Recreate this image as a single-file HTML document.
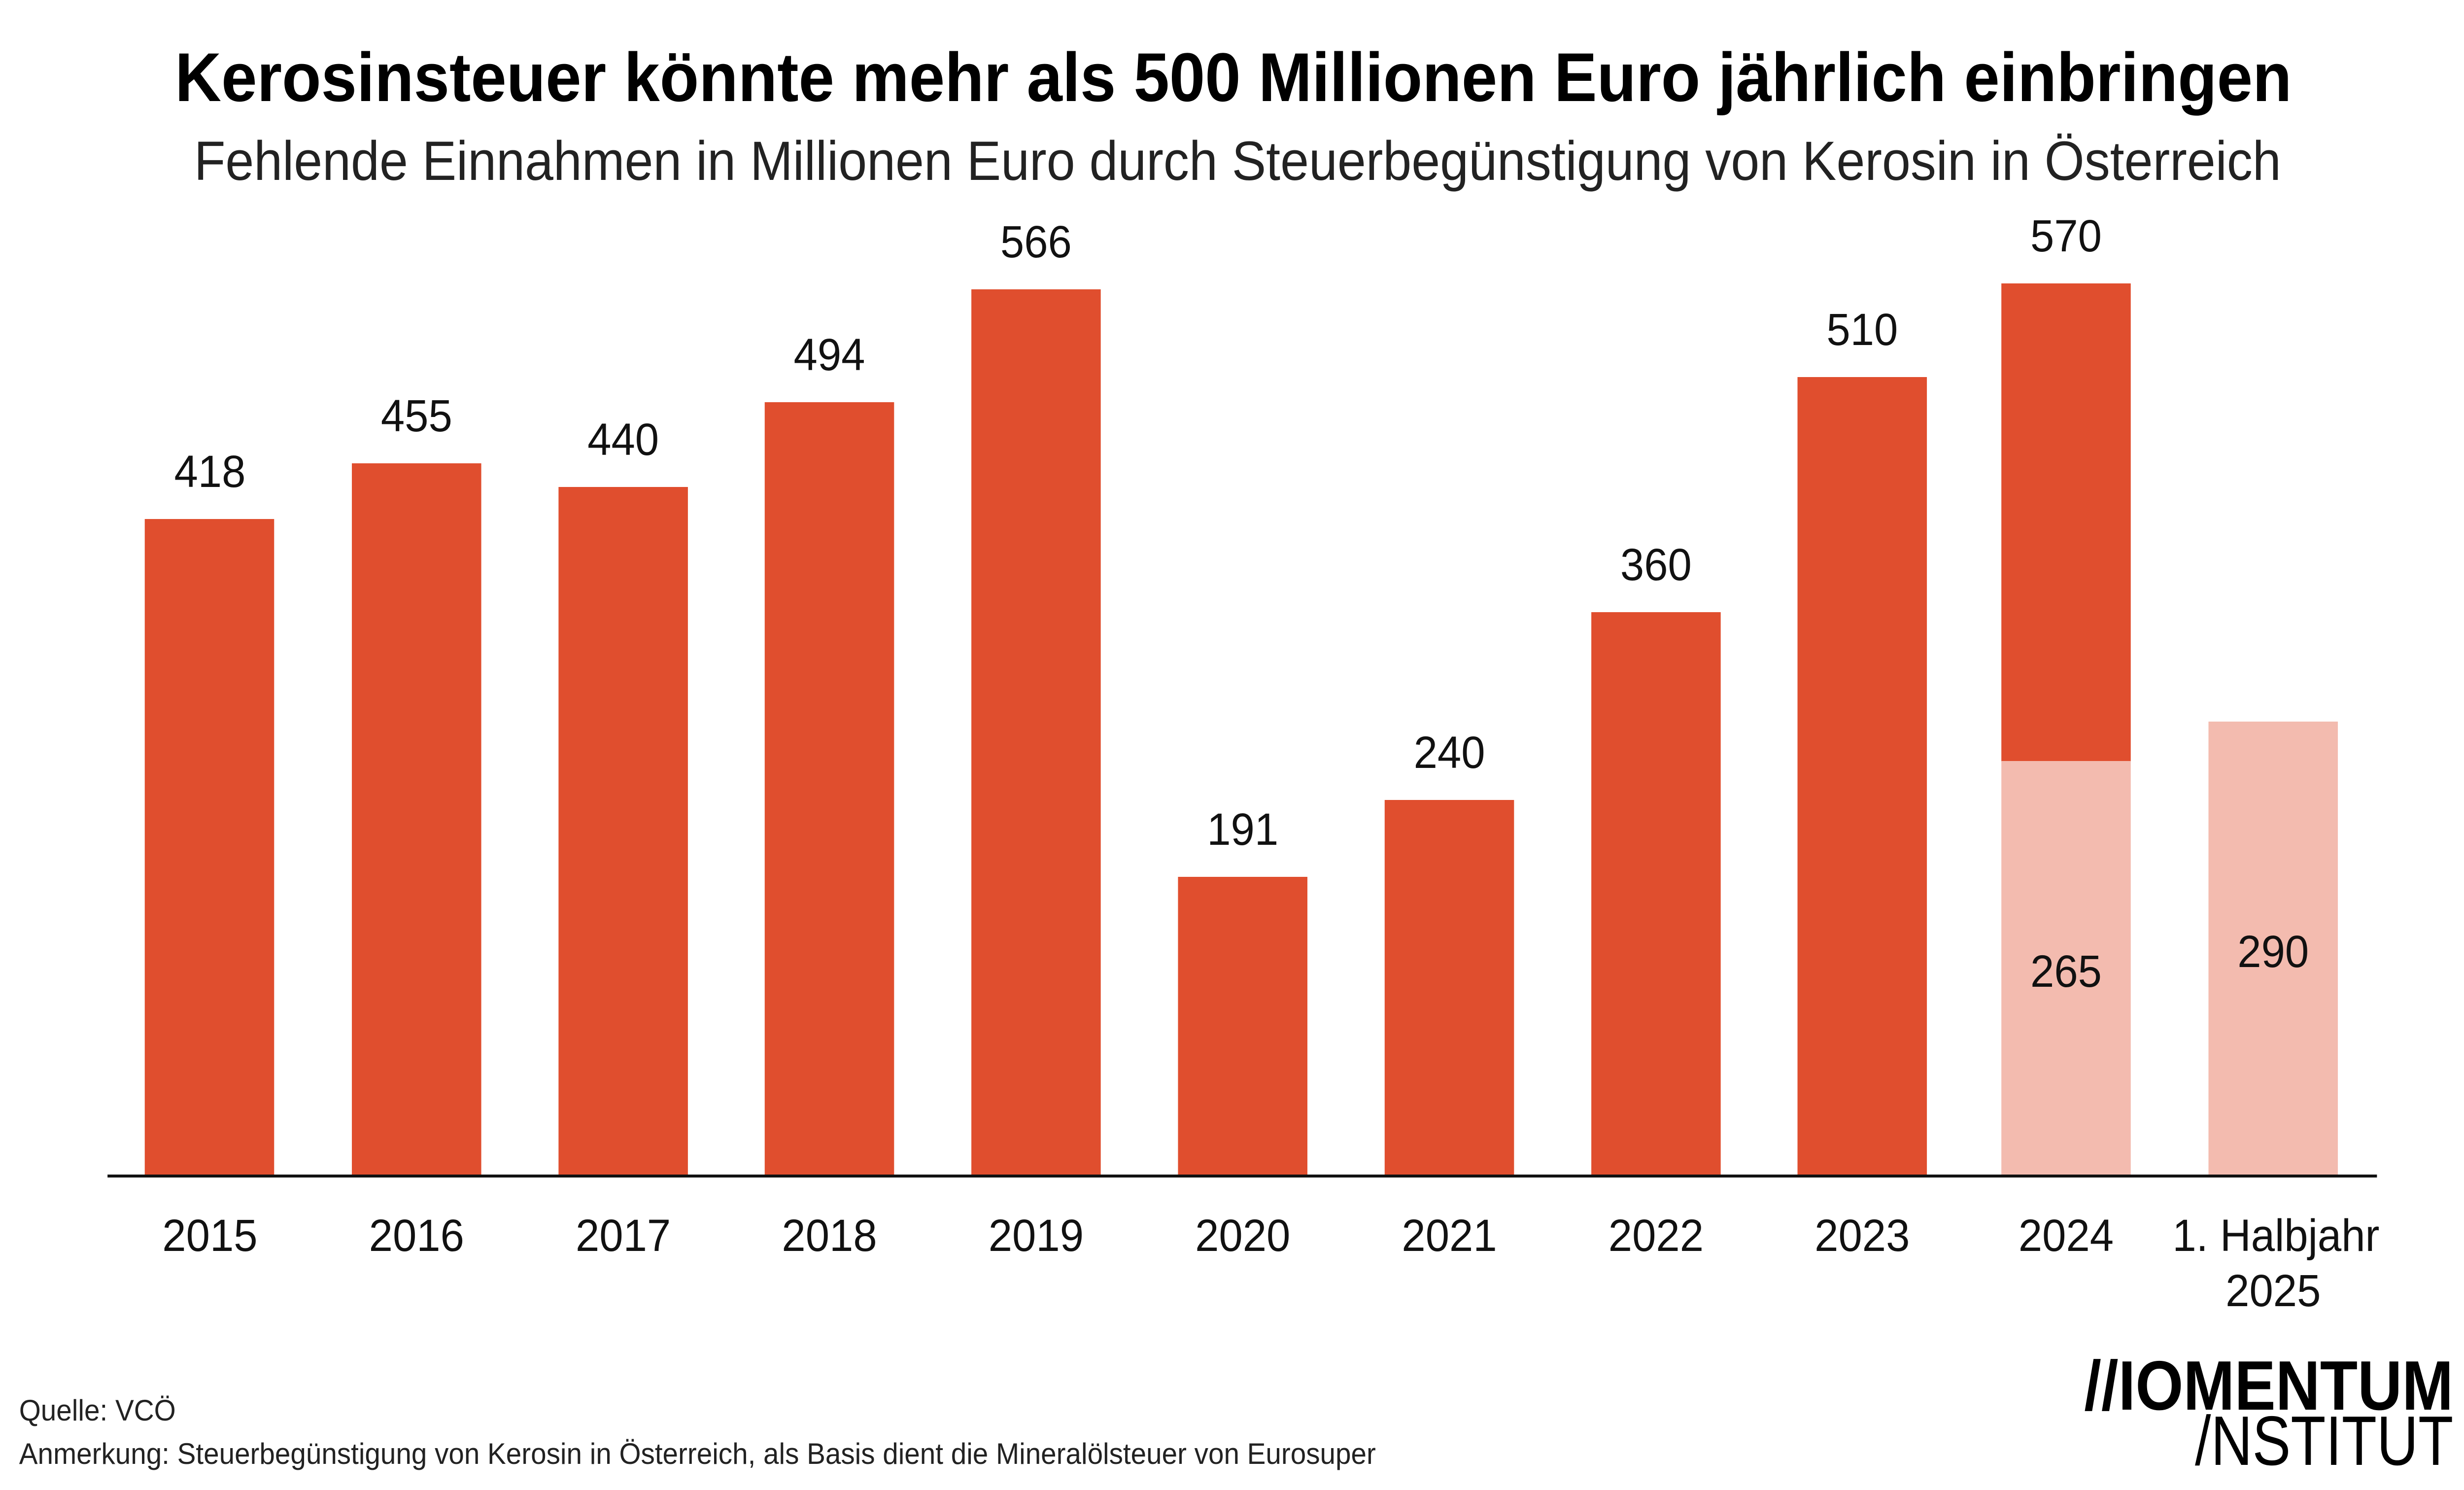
<!DOCTYPE html>
<html><head><meta charset="utf-8"><style>
html,body{margin:0;padding:0;background:#fff;width:100%;height:100%;overflow:hidden}
svg{display:block;position:fixed;left:0;top:0;width:100vw;height:100vh}
</style></head>
<body>
<svg viewBox="0 0 5294 3023" preserveAspectRatio="none" xmlns="http://www.w3.org/2000/svg" font-family="Liberation Sans, sans-serif">
<rect width="5294" height="3023" fill="#fff"/>
<text x="2650" y="205" text-anchor="middle" font-size="140" font-weight="bold" textLength="4548" lengthAdjust="spacingAndGlyphs">Kerosinsteuer könnte mehr als 500 Millionen Euro jährlich einbringen</text>
<text x="2659" y="365" text-anchor="middle" font-size="112" fill="#222" textLength="4484" lengthAdjust="spacingAndGlyphs">Fehlende Einnahmen in Millionen Euro durch Steuerbegünstigung von Kerosin in Österreich</text>
<g fill="#E04E2E">
<rect x="311" y="1053" width="278" height="1333"/>
<rect x="756" y="940" width="278" height="1446"/>
<rect x="1200" y="988" width="278" height="1398"/>
<rect x="1643" y="816" width="278" height="1570"/>
<rect x="2087" y="587" width="278" height="1799"/>
<rect x="2531" y="1779" width="278" height="607"/>
<rect x="2975" y="1623" width="278" height="763"/>
<rect x="3419" y="1242" width="278" height="1144"/>
<rect x="3862" y="765" width="278" height="1621"/>
<rect x="4300" y="575" width="278" height="970"/>
</g>
<g fill="#F3BBAF">
<rect x="4300" y="1544" width="278" height="842"/>
<rect x="4745" y="1464" width="278" height="922"/>
</g>
<line x1="231" y1="2386" x2="5107" y2="2386" stroke="#111" stroke-width="6"/>
<g font-size="92" text-anchor="middle" fill="#111">
<text x="451" y="988">418</text>
<text x="895" y="875">455</text>
<text x="1339" y="923">440</text>
<text x="1782" y="751">494</text>
<text x="2226" y="522">566</text>
<text x="2670" y="1714">191</text>
<text x="3114" y="1558">240</text>
<text x="3558" y="1177">360</text>
<text x="4001" y="700">510</text>
<text x="4439" y="510">570</text>
<text x="4439" y="2002">265</text>
<text x="4884" y="1962">290</text>
</g>
<g font-size="92" text-anchor="middle" fill="#111">
<text x="451" y="2538">2015</text>
<text x="895" y="2538">2016</text>
<text x="1339" y="2538">2017</text>
<text x="1782" y="2538">2018</text>
<text x="2226" y="2538">2019</text>
<text x="2670" y="2538">2020</text>
<text x="3114" y="2538">2021</text>
<text x="3558" y="2538">2022</text>
<text x="4001" y="2538">2023</text>
<text x="4439" y="2538">2024</text>
<text x="4890" y="2538">1. Halbjahr</text>
<text x="4884" y="2650">2025</text>
</g>
<text x="41" y="2882" font-size="60" fill="#222">Quelle: VCÖ</text>
<text x="41" y="2970" font-size="60" fill="#222" textLength="2915" lengthAdjust="spacingAndGlyphs">Anmerkung: Steuerbegünstigung von Kerosin in Österreich, als Basis dient die Mineralölsteuer von Eurosuper</text>
<text x="4478" y="2860" font-size="142" font-weight="bold" textLength="793" lengthAdjust="spacingAndGlyphs">//IOMENTUM</text>
<text x="4716" y="2972" font-size="142" textLength="555" lengthAdjust="spacingAndGlyphs">/NSTITUT</text>
</svg>
</body></html>
